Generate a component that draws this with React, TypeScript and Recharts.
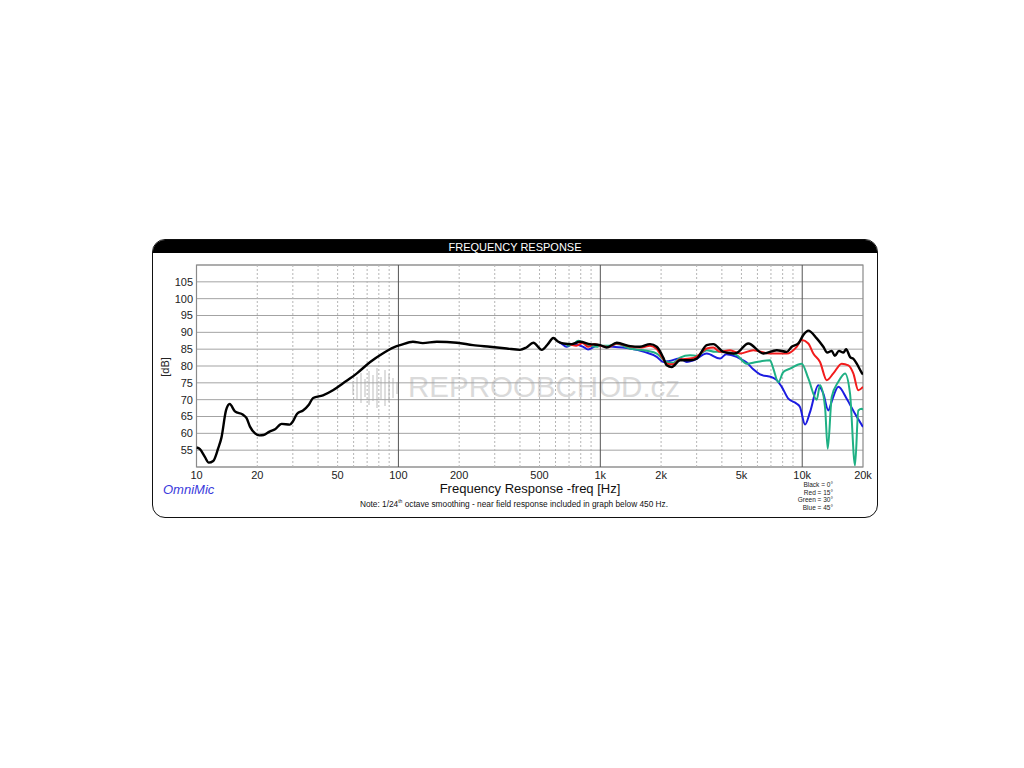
import { LineChart, Line, XAxis, YAxis, CartesianGrid, ReferenceLine, ReferenceArea } from 'recharts';

const FONT = '"Liberation Sans", Arial, sans-serif';

// frequency response, 0 degrees (black)
const blackFreq = [10, 10.4, 11, 11.5, 12.1, 12.8, 13.3, 14, 14.6, 15.5, 17, 17.7, 18.4, 19.5, 20.5, 21.5, 23, 24.5, 26.4, 29, 30, 31.5, 33.7, 36, 37.8, 42.3, 47.4, 53.2, 62.5, 72.5, 84, 98, 102, 118, 132, 155, 195, 234, 284, 344, 400, 430, 466, 513, 550, 585, 620, 656, 722, 793, 889, 997, 1076, 1206, 1403, 1572, 1763, 1903, 2050, 2133, 2258, 2482, 2782, 3003, 3365, 3628, 4068, 4557, 4738, 5408, 6417, 7475, 8380, 8872, 9565, 10125, 10720, 11800, 12720, 13300, 14000, 14500, 15200, 16000, 16500, 17250, 18000, 18620, 19710, 20000];
const blackDb = [55.8, 55.3, 53, 51.3, 51.8, 55.5, 58.8, 66.8, 68.7, 66.5, 65.5, 64.5, 62, 60, 59.4, 59.5, 60.5, 61.2, 62.8, 62.6, 63.5, 65.8, 66.8, 68.5, 70.5, 71.3, 72.8, 74.9, 77.9, 81.2, 83.8, 85.9, 86.2, 87.2, 86.8, 87.2, 86.9, 86.2, 85.7, 85.2, 84.8, 85.5, 86.9, 84.8, 86.5, 88.3, 87.2, 86.7, 86.5, 87.2, 86.5, 86.2, 85.5, 86.9, 85.9, 85.7, 86.5, 85.7, 82.5, 80.2, 79.7, 81.7, 81.7, 82.2, 86.2, 86.5, 84.2, 83.7, 83.9, 86.7, 83.7, 84.7, 84.2, 85.7, 86.7, 89.2, 90.5, 88.2, 85.7, 84, 84.5, 83, 84.5, 84, 85, 82.7, 82, 80.7, 78, 77.5];

// 15 degrees (red)
const redFreq = [700, 760, 820, 870, 930, 1000, 1100, 1206, 1403, 1600, 1763, 1903, 2050, 2133, 2300, 2482, 2782, 3003, 3365, 3628, 3916, 4390, 4919, 5725, 6925, 8380, 9391, 9943, 10720, 11350, 12250, 13225, 14260, 15690, 16920, 17910, 18960, 20000];
const redDb = [86.5, 86, 86.8, 85.7, 86.5, 86, 85.6, 86.7, 85.8, 85.5, 86, 85, 82, 80.7, 80.5, 82, 82.2, 82.8, 85.2, 85.5, 84.2, 84.7, 83.7, 84.7, 83.7, 83.7, 85.7, 87.7, 86.7, 83.7, 81.2, 75.8, 77.8, 80.7, 80.2, 77.8, 72.8, 73.8];

// 30 degrees (green)
const greenFreq = [680, 730, 778, 856, 960, 1000, 1100, 1206, 1403, 1700, 1903, 2133, 2300, 2482, 2782, 3003, 3365, 3700, 4068, 4738, 5311, 5951, 6925, 7192, 7612, 8061, 8701, 9943, 10720, 11800, 12250, 12970, 13380, 14000, 15100, 16290, 17250, 18260, 18960, 19710, 20000];
const greenDb = [86, 86.3, 87.5, 86.2, 85.7, 86, 86, 86.5, 85.2, 84.5, 83.7, 81.2, 81, 82.5, 83.2, 83, 84.7, 84.2, 84.2, 83.2, 80.7, 81.2, 81.7, 79.2, 75.2, 78.2, 79.2, 80.7, 76.3, 70, 74.3, 67.8, 55.4, 70.8, 75.3, 77.8, 71.8, 50.5, 66.8, 67.3, 67];

// 45 degrees (blue)
const blueFreq = [620, 640, 680, 730, 824, 870, 960, 1100, 1403, 1650, 1903, 2050, 2200, 2482, 2681, 2900, 3365, 3916, 4200, 4738, 4919, 5311, 5725, 6180, 7192, 7475, 7915, 8534, 9391, 9752, 10325, 10930, 12015, 12720, 13470, 14000, 15100, 16610, 18260, 20000];
const blueDb = [87.2, 86.7, 85.7, 86.5, 85.7, 84.9, 86, 85.8, 85.2, 84.2, 82.7, 81.2, 81.5, 82.2, 81.2, 81.7, 83.7, 82.2, 83.5, 82.7, 82.2, 81, 79, 77.5, 76.5, 75.8, 73.8, 70.3, 68.8, 67.8, 62.6, 66.3, 74.3, 71.8, 66.8, 69.5, 73.8, 70.3, 65.8, 61.9];

const xTicks = [10, 20, 50, 100, 200, 500, 1000, 2000, 5000, 10000, 20000];
const yTicks = [55, 60, 65, 70, 75, 80, 85, 90, 95, 100, 105];
const decadeLines = [100, 1000, 10000];
const minorLines = [20, 30, 40, 50, 60, 70, 80, 90, 200, 300, 400, 500, 600, 700, 800, 900, 2000, 3000, 4000, 5000, 6000, 7000, 8000, 9000];
const legendLines = ['Black = 0°', 'Red = 15°', 'Green = 30°', 'Blue = 45°'];
const watermarkBars = [14, 22, 30, 18, 34, 26, 40, 22, 36, 28, 20, 12];

const toPoints = (freq: number[], db: number[]) => freq.map((f, i) => ({ f, db: db[i] }));

const fmtHz = (v: number) => (v >= 1000 ? `${v / 1000}k` : `${v}`);

const abs = (left: number, top: number, extra: React.CSSProperties = {}): React.CSSProperties => ({
  position: 'absolute',
  left,
  top,
  whiteSpace: 'nowrap',
  fontFamily: FONT,
  ...extra,
});

export default function App() {
  return (
    <div style={{ position: 'absolute', left: 0, top: 0, width: 1024, height: 768, background: '#fff' }}>
      {/* frame and title bar */}
      <div
        style={{
          position: 'absolute',
          left: 152,
          top: 239,
          width: 724,
          height: 277,
          border: '1.5px solid #111',
          borderRadius: 13,
          overflow: 'hidden',
          boxSizing: 'content-box',
        }}
      >
        <div
          style={{
            height: 13,
            background: '#000',
            color: '#fff',
            fontFamily: FONT,
            fontSize: 11,
            lineHeight: '14px',
            textAlign: 'center',
          }}
        >
          FREQUENCY RESPONSE
        </div>
      </div>

      {/* watermark */}
      <div style={abs(408, 370, { fontSize: 29.5, color: '#dadada', lineHeight: '34px' })}>REPROOBCHOD.cz</div>
      {watermarkBars.map((h, i) => (
        <div
          key={`wm-${i}`}
          style={{ position: 'absolute', left: 352 + i * 4, top: 388 - h / 2, width: 1.6, height: h, background: '#dedede' }}
        />
      ))}

      <div style={{ position: 'absolute', left: 0, top: 0 }}>
        <LineChart width={1024} height={768} margin={{ top: 265, right: 161, bottom: 271, left: 156.5 }}>
          <CartesianGrid vertical={false} stroke="#a3a3a3" strokeWidth={1} />
          {minorLines.map((f) => (
            <ReferenceLine key={`m-${f}`} x={f} stroke="#b5b5b5" strokeDasharray="2 2" strokeWidth={1} />
          ))}
          {decadeLines.map((f) => (
            <ReferenceLine key={`d-${f}`} x={f} stroke="#555" strokeWidth={1} />
          ))}
          <ReferenceArea x1={10} x2={20000} y1={50} y2={110} fill="none" stroke="#8a8a8a" strokeWidth={1.2} />
          <XAxis
            dataKey="f"
            type="number"
            scale="log"
            domain={[10, 20000]}
            allowDataOverflow
            ticks={xTicks}
            interval={0}
            tickFormatter={fmtHz}
            axisLine={false}
            tickLine={false}
            tickSize={0}
            tickMargin={4}
            height={30}
            stroke="#222"
            tick={{ fill: '#222', fontSize: 11, fontFamily: FONT, stroke: 'none' }}
          />
          <YAxis
            type="number"
            domain={[50, 110]}
            allowDataOverflow
            ticks={yTicks}
            interval={0}
            axisLine={false}
            tickLine={false}
            tickSize={0}
            tickMargin={3.5}
            width={40}
            stroke="#222"
            tick={{ fill: '#222', fontSize: 11, fontFamily: FONT, stroke: 'none' }}
          />
          <Line data={toPoints(blueFreq, blueDb)} dataKey="db" type="monotone" stroke="#1c1ce0" strokeWidth={2} dot={false} isAnimationActive={false} />
          <Line data={toPoints(greenFreq, greenDb)} dataKey="db" type="monotone" stroke="#1fb084" strokeWidth={2} dot={false} isAnimationActive={false} />
          <Line data={toPoints(redFreq, redDb)} dataKey="db" type="monotone" stroke="#f21c1c" strokeWidth={2} dot={false} isAnimationActive={false} />
          <Line data={toPoints(blackFreq, blackDb)} dataKey="db" type="monotone" stroke="#000" strokeWidth={2.4} dot={false} isAnimationActive={false} />
        </LineChart>
      </div>

      {/* labels */}
      <div style={abs(165, 367, { fontSize: 11, color: '#222', transform: 'translate(-50%, -50%) rotate(-90deg)' })}>[dB]</div>
      <div style={abs(530, 488, { fontSize: 13, color: '#111', transform: 'translate(-50%, -50%)' })}>
        Frequency Response -freq [Hz]
      </div>
      <div style={abs(163, 489, { fontSize: 13, fontStyle: 'italic', color: '#3a3adc', transform: 'translateY(-50%)' })}>OmniMic</div>
      <div style={abs(514, 504, { fontSize: 8.3, color: '#111', transform: 'translate(-50%, -50%)' })}>
        Note: 1/24<sup style={{ fontSize: 5, verticalAlign: 'super', lineHeight: 0 }}>th</sup> octave smoothing - near field response included in graph below 450 Hz.
      </div>
      {legendLines.map((t, i) => (
        <div
          key={t}
          style={abs(833, 484 + i * 7.5, { fontSize: 6.5, color: '#222', transform: 'translate(-100%, -50%)' })}
        >
          {t}
        </div>
      ))}
    </div>
  );
}
